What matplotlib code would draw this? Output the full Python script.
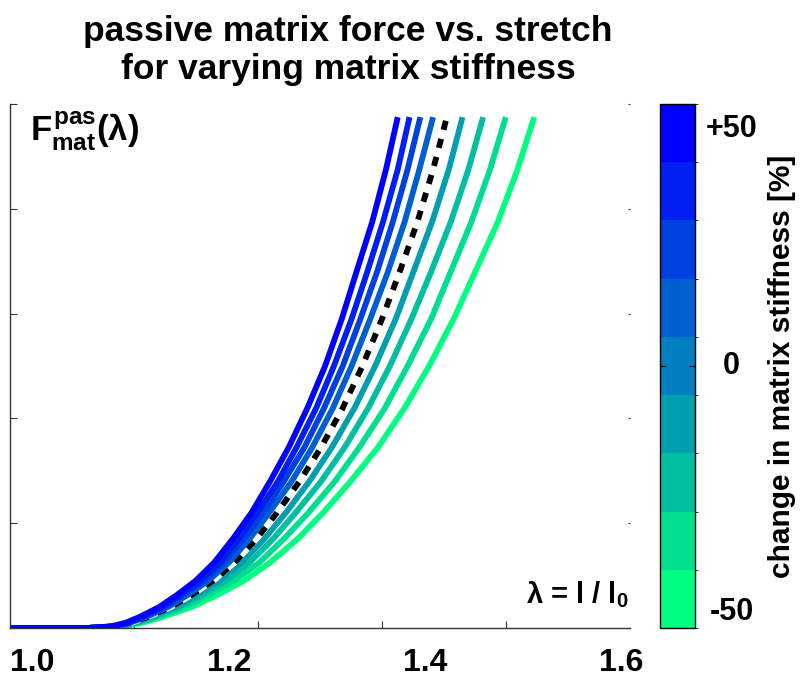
import numpy as np
import matplotlib
matplotlib.use("Agg")
import matplotlib.pyplot as plt
from matplotlib.colors import ListedColormap, BoundaryNorm
from matplotlib.cm import ScalarMappable

plt.rcParams['font.family'] = ['Liberation Sans', 'DejaVu Sans']
plt.rcParams['font.weight'] = 'bold'
plt.rcParams['mathtext.fontset'] = 'custom'
plt.rcParams['mathtext.rm'] = 'Liberation Sans:bold'
plt.rcParams['mathtext.it'] = 'Liberation Sans:bold'
plt.rcParams['mathtext.bf'] = 'Liberation Sans:bold'

# change in matrix stiffness [%] for each curve
stiffness_change = [50, 37.5, 25, 12.5, 0, -12.5, -25, -37.5, -50]

# passive force levels (normalised) at which each curve was read
force = [0.0, 0.0, 0.003, 0.01, 0.022, 0.04, 0.063, 0.09, 0.125, 0.17, 0.22,
         0.28, 0.345, 0.42, 0.50, 0.59, 0.68, 0.775, 0.875, 0.975]

# stretch lambda at those force levels, one list per curve
stretch = {
    50:    [0.981, 1.060, 1.084, 1.099, 1.114, 1.133, 1.151, 1.170, 1.189, 1.208, 1.227,
            1.246, 1.265, 1.284, 1.302, 1.319, 1.334, 1.350, 1.364, 1.376],
    37.5:  [0.981, 1.060, 1.085, 1.100, 1.117, 1.136, 1.155, 1.175, 1.195, 1.214, 1.233,
            1.254, 1.273, 1.293, 1.311, 1.329, 1.345, 1.361, 1.376, 1.388],
    25:    [0.981, 1.060, 1.086, 1.102, 1.118, 1.139, 1.158, 1.179, 1.199, 1.219, 1.239,
            1.260, 1.281, 1.301, 1.320, 1.338, 1.355, 1.371, 1.386, 1.399],
    12.5:  [0.981, 1.060, 1.087, 1.103, 1.121, 1.142, 1.162, 1.183, 1.204, 1.225, 1.245,
            1.268, 1.289, 1.310, 1.329, 1.348, 1.366, 1.383, 1.398, 1.412],
    0:     [0.981, 1.060, 1.088, 1.105, 1.123, 1.145, 1.166, 1.188, 1.210, 1.232, 1.253,
            1.276, 1.298, 1.320, 1.340, 1.360, 1.378, 1.396, 1.412, 1.426],
    -12.5: [0.981, 1.060, 1.089, 1.107, 1.126, 1.149, 1.171, 1.194, 1.217, 1.240, 1.262,
            1.286, 1.309, 1.332, 1.353, 1.374, 1.392, 1.411, 1.428, 1.442],
    -25:   [0.981, 1.060, 1.091, 1.110, 1.129, 1.154, 1.177, 1.201, 1.225, 1.249, 1.272,
            1.298, 1.322, 1.346, 1.368, 1.390, 1.410, 1.430, 1.448, 1.463],
    -37.5: [0.981, 1.060, 1.093, 1.112, 1.133, 1.159, 1.183, 1.209, 1.235, 1.260, 1.285,
            1.312, 1.337, 1.363, 1.386, 1.410, 1.430, 1.451, 1.470, 1.486],
    -50:   [0.981, 1.060, 1.095, 1.116, 1.138, 1.166, 1.192, 1.219, 1.246, 1.274, 1.300,
            1.328, 1.356, 1.383, 1.408, 1.433, 1.455, 1.478, 1.498, 1.515],
}

xtick_labels = ['1.0', '1.2', '1.4', '1.6']
xtick_values = [1.0, 1.2, 1.4, 1.6]

cmap_full = plt.get_cmap('winter_r')
n = len(stiffness_change)
colors = [cmap_full(i / (n - 1)) for i in range(n)]  # index 0 -> -50 (green)
cmap = ListedColormap(colors)
bounds = np.linspace(-50, 50, n + 1)
norm = BoundaryNorm(bounds, cmap.N)

fig = plt.figure(figsize=(8, 6.88), dpi=100)
ax = fig.add_axes([0.0125, 0.0872, 0.775, 0.7616])
cax = fig.add_axes([0.825, 0.0872, 0.04375, 0.7616])

x0, x1 = 0.981, 1.6126


def color_for(s):
    return colors[int(round((s + 50) / 12.5))]


# greens first, then the reference curve, then blues on top
for s in sorted(stiffness_change):
    if s < 0:
        ax.plot(stretch[s], force, color=color_for(s), lw=4.2, solid_capstyle='butt')
ax.plot(stretch[0], force, color='white', lw=4.2, solid_capstyle='butt')
ax.plot(stretch[0], force, color='black', lw=4.2, ls=(0, (1.6, 1.6)), dash_capstyle='butt')
for s in sorted(stiffness_change):
    if s > 0:
        ax.plot(stretch[s], force, color=color_for(s), lw=4.2, solid_capstyle='butt')

ax.set_xlim(x0, x1)
ax.set_ylim(0, 1)
ax.spines['top'].set_visible(False)
ax.spines['right'].set_visible(False)
for sp in ['left', 'bottom']:
    ax.spines[sp].set_color('#333333')
    ax.spines[sp].set_linewidth(1.0)

ax.set_xticks(np.linspace(x0, x1, 6)[1:-1])
ax.set_xticklabels([])
ax.set_yticks(np.linspace(0, 1, 6))
ax.set_yticklabels([])
ax.tick_params(axis='both', direction='in', length=5, width=0.8, color='#333333')
ax.tick_params(axis='y', which='major', right=True)
for t in ax.yaxis.get_major_ticks():
    t.tick2line.set_markersize(1.5)

for v, lab in zip(xtick_values, xtick_labels):
    ax.text(v + 0.004, -0.066, lab, transform=ax.get_xaxis_transform(), ha='center', va='center',
            fontsize=23, fontweight='bold', clip_on=False)

ax.text(0.032, 0.99, r'$F^{pas}_{mat}(\lambda)$', transform=ax.transAxes,
        ha='left', va='top', fontsize=25)
ax.text(0.998, 0.035, r'$\lambda$ = l / l$_0$', transform=ax.transAxes,
        ha='right', va='bottom', fontsize=21, fontweight='bold')

fig.text(0.435, 0.978, 'passive matrix force vs. stretch\nfor varying matrix stiffness',
         ha='center', va='top', fontsize=25.5, fontweight='bold', linespacing=1.2)

sm = ScalarMappable(norm=norm, cmap=cmap)
cbar = fig.colorbar(sm, cax=cax, boundaries=bounds)
cbar.outline.set_linewidth(1.0)
cbar.set_ticks([0])
cbar.set_ticklabels([''])
cax.tick_params(direction='in', left=True, right=True, length=4, width=0.8)
cax.text(2.05, 0.953, '+50', transform=cax.transAxes, ha='center', va='center', fontsize=22, fontweight='bold')
cax.text(2.05, 0.5, '0', transform=cax.transAxes, ha='center', va='center', fontsize=22, fontweight='bold')
cax.text(2.05, 0.03, '-50', transform=cax.transAxes, ha='center', va='center', fontsize=22, fontweight='bold')
cax.text(3.5, 0.5, 'change in matrix stiffness [%]', transform=cax.transAxes, rotation=90,
         ha='center', va='center', fontsize=21.5, fontweight='bold')

fig.savefig('out.png', dpi=100)
